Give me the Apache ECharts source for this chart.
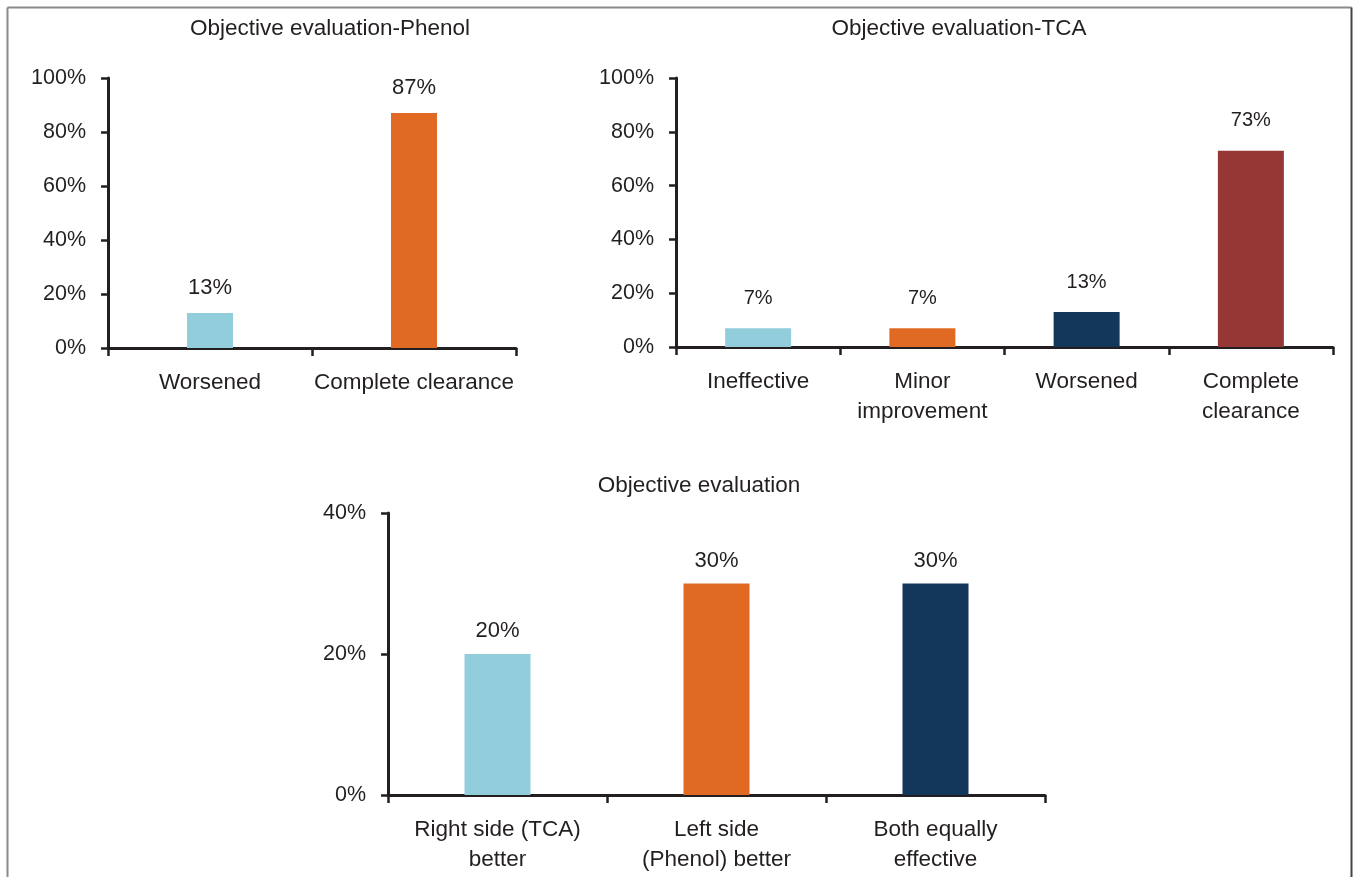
<!DOCTYPE html>
<html>
<head>
<meta charset="utf-8">
<script src="https://cdn.jsdelivr.net/npm/echarts@6/dist/echarts.min.js"></script>
<style>
html,body{margin:0;padding:0;background:#fff;}
#chart{width:1353px;height:877px;}
</style>
</head>
<body>
<div id="chart"></div>
<script>
// ---- Data ----
const phenolTitle = 'Objective evaluation-Phenol';
const phenolCategories = ['Worsened', 'Complete clearance'];
const phenolValues = [13, 87];
const phenolColors = ['#92CDDC', '#E06A24'];

const tcaTitle = 'Objective evaluation-TCA';
const tcaCategories = ['Ineffective', 'Minor\nimprovement', 'Worsened', 'Complete\nclearance'];
const tcaValues = [7, 7, 13, 73];
const tcaColors = ['#92CDDC', '#E06A24', '#13375A', '#953735'];

const overallTitle = 'Objective evaluation';
const overallCategories = ['Right side (TCA)\nbetter', 'Left side\n(Phenol) better', 'Both equally\neffective'];
const overallValues = [20, 30, 30];
const overallColors = ['#92CDDC', '#E06A24', '#13375A'];

const yTicksTop = { min: 0, max: 100, interval: 20 };
const yTicksBottom = { min: 0, max: 40, interval: 20 };

// ---- Styles ----
const FONT = '"Liberation Sans", Arial, Helvetica, sans-serif';
const NARROW = '"Liberation Sans Narrow", "Arial Narrow", "Liberation Sans", Arial, sans-serif';
const INK = '#231f20';

function xAxis(gridIndex, cats) {
  return {
    type: 'category', gridIndex, data: cats,
    axisLine: { show: true, lineStyle: { color: INK, width: 3 } },
    axisTick: { show: true, length: 8, lineStyle: { color: INK, width: 2.5 } },
    axisLabel: { color: INK, fontSize: 22.5, fontFamily: FONT, margin: 20, lineHeight: 30, interval: 0 },
    splitLine: { show: false }
  };
}
function yAxis(gridIndex, t) {
  return {
    type: 'value', gridIndex, min: t.min, max: t.max, interval: t.interval,
    axisLine: { show: true, lineStyle: { color: INK, width: 3 } },
    axisTick: { show: true, length: 7, lineStyle: { color: INK, width: 2.5 } },
    axisLabel: { color: INK, fontSize: 21.5, fontFamily: FONT, margin: 22, formatter: '{value}%' },
    splitLine: { show: false }
  };
}
function bars(idx, values, colors, width, dist, labelFont, labelSize) {
  return {
    type: 'bar', xAxisIndex: idx, yAxisIndex: idx, barWidth: width,
    data: values.map((v, i) => ({ value: v, itemStyle: { color: colors[i] } })),
    label: { show: true, position: 'top', distance: dist, formatter: '{c}%', color: INK, fontSize: labelSize, fontFamily: labelFont },
    silent: true, animation: false
  };
}
function title(text, x, y) {
  return { text, left: x, top: y, textAlign: 'center', padding: 0,
    textStyle: { color: INK, fontSize: 22.5, fontWeight: 'normal', fontFamily: FONT } };
}

const chart = echarts.init(document.getElementById('chart'), null, { renderer: 'canvas' });
chart.setOption({
  backgroundColor: '#fff',
  animation: false,
  title: [
    title(phenolTitle, 330, 17),
    title(tcaTitle, 959, 17),
    title(overallTitle, 699, 474)
  ],
  grid: [
    { left: 108, top: 78, width: 408, height: 270 },
    { left: 676, top: 78, width: 657, height: 269 },
    { left: 388, top: 513, width: 657, height: 282 }
  ],
  xAxis: [xAxis(0, phenolCategories), xAxis(1, tcaCategories), xAxis(2, overallCategories)],
  yAxis: [yAxis(0, yTicksTop), yAxis(1, yTicksTop), yAxis(2, yTicksBottom)],
  series: [
    bars(0, phenolValues, phenolColors, 46, 14, FONT, 22),
    bars(1, tcaValues, tcaColors, 66, 20, NARROW, 20),
    bars(2, overallValues, overallColors, 66, 12, FONT, 22)
  ],
  graphic: [
    { type: 'line', shape: { x1: 7.5, y1: 7.5, x2: 7.5, y2: 900 }, style: { stroke: '#8a8a8a', lineWidth: 2 }, silent: true },
    { type: 'line', shape: { x1: 7.5, y1: 7.5, x2: 1351.5, y2: 7.5 }, style: { stroke: '#8a8a8a', lineWidth: 2 }, silent: true },
    { type: 'line', shape: { x1: 1351.5, y1: 7.5, x2: 1351.5, y2: 900 }, style: { stroke: '#444', lineWidth: 2 }, silent: true }
  ]
});
</script>
</body>
</html>
